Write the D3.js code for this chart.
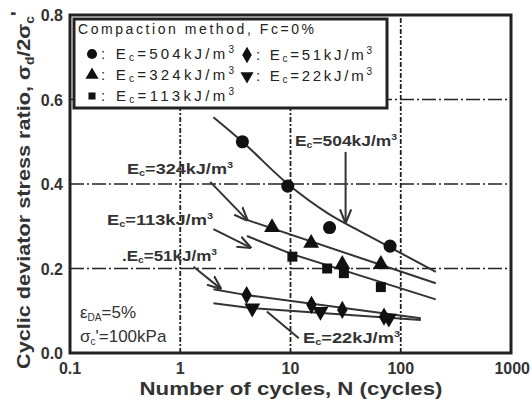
<!DOCTYPE html>
<html>
<head>
<meta charset="utf-8">
<script src="https://cdn.jsdelivr.net/npm/d3@7"></script>
<style>
  body { margin: 0; background: #fff; }
  text { font-family: "Liberation Sans", Arial, sans-serif; }
</style>
</head>
<body>
<div id="chart"></div>
<script>
// measured points (N cycles, stress ratio)
const ec504N = [3.66, 9.45, 22.6, 80]
const ec504R = [0.50, 0.395, 0.297, 0.253]
const ec324N = [6.8, 15.4, 29.5, 66]
const ec324R = [0.297, 0.26, 0.21, 0.21]
const ec113N = [10.4, 21.5, 30.5, 66]
const ec113R = [0.228, 0.20, 0.189, 0.156]
const ec51N = [4.0, 15.5, 29.5, 70.5]
const ec51R = [0.137, 0.114, 0.102, 0.086]
const ec22N = [4.5, 18.7, 78]
const ec22R = [0.106, 0.098, 0.082]

// fitted curves
const fit504 = [[2.0, 0.558], [3.66, 0.50], [9.45, 0.40], [22, 0.33], [45, 0.285], [80, 0.25], [208, 0.192]]
const fit324 = [[4.03, 0.315], [208, 0.165]]
const fit113 = [[4.03, 0.277], [10.3, 0.234], [208, 0.127]]
const fit51 = [[2.0, 0.151], [4.0, 0.137], [152, 0.082]]
const fit22 = [[2.0, 0.118], [4.5, 0.106], [152, 0.078]]

const xTicks = [0.1, 1, 10, 100, 1000]
const xTickLabels = ['0.1', '1', '10', '100', '1000']
const yTicks = [0, 0.2, 0.4, 0.6, 0.8]
const yTickLabels = ['0.0', '0.2', '0.4', '0.6', '0.8']
const energies = ['504', '324', '113', '51', '22']

const width = 532, height = 400
const margin = {left: 70, right: 21, top: 15, bottom: 47}

const svg = d3.select('#chart').append('svg')
    .attr('width', width)
    .attr('height', height)

const x = d3.scaleLog().domain([0.1, 1000]).range([margin.left, width - margin.right])
const y = d3.scaleLinear().domain([0, 0.8]).range([height - margin.bottom, margin.top])

// grid
svg.append('g').selectAll('line')
    .data([0.2, 0.4, 0.6]).enter().append('line')
    .attr('x1', x(0.1)).attr('x2', x(1000))
    .attr('y1', d => y(d)).attr('y2', d => y(d))
    .attr('stroke', '#222').attr('stroke-width', 1.6)
    .attr('stroke-dasharray', '14,3,2,3')
svg.append('g').selectAll('line')
    .data([1, 10, 100]).enter().append('line')
    .attr('x1', d => x(d)).attr('x2', d => x(d))
    .attr('y1', y(0)).attr('y2', y(0.8))
    .attr('stroke', '#222').attr('stroke-width', 1.8)
    .attr('stroke-dasharray', '5,2,2,2')

// tick labels
svg.append('g').selectAll('text')
    .data(yTicks).enter().append('text')
    .attr('x', margin.left - 7)
    .attr('y', d => y(d) + 6)
    .attr('text-anchor', 'end')
    .attr('font-size', 16).attr('font-weight', 'bold').attr('fill', '#333')
    .text((d, i) => yTickLabels[i])
svg.append('g').selectAll('text')
    .data(xTicks).enter().append('text')
    .attr('x', d => x(d))
    .attr('y', y(0) + 21)
    .attr('text-anchor', d => d == 1000 ? 'end' : 'middle')
    .attr('dx', d => d == 1000 ? 19 : 0)
    .attr('font-size', 16).attr('font-weight', 'bold').attr('fill', '#333')
    .text((d, i) => xTickLabels[i])

// axis titles
svg.append('text')
    .attr('x', 291).attr('y', 395)
    .attr('text-anchor', 'middle')
    .attr('font-size', 19).attr('font-weight', 'bold').attr('fill', '#333')
    .attr('textLength', 303).attr('lengthAdjust', 'spacingAndGlyphs')
    .text('Number of cycles, N (cycles)')

const yt = svg.append('text')
    .attr('transform', 'translate(30,190) rotate(-90)')
    .attr('text-anchor', 'middle')
    .attr('font-size', 19).attr('font-weight', 'bold').attr('fill', '#333')
    .attr('textLength', 358).attr('lengthAdjust', 'spacingAndGlyphs')
yt.append('tspan').text('Cyclic deviator stress ratio, σ')
yt.append('tspan').attr('font-size', 12).attr('dy', 4).text('d')
yt.append('tspan').attr('dy', -4).text('/2σ')
yt.append('tspan').attr('font-size', 12).attr('dy', 4).text('c')
yt.append('tspan').attr('dy', -10).text("'")

// fitted lines
const line = d3.line().x(d => x(d[0])).y(d => y(d[1]))
const curve = d3.line().x(d => x(d[0])).y(d => y(d[1])).curve(d3.curveMonotoneX)
const fits = [fit504, fit324, fit113, fit51, fit22]
svg.append('g').selectAll('path')
    .data(fits).enter().append('path')
    .attr('d', (d, i) => i == 0 ? curve(d) : line(d))
    .attr('fill', 'none').attr('stroke', '#333').attr('stroke-width', 2)

// leaders with arrows
svg.append('defs').append('marker')
    .attr('id', 'arr').attr('viewBox', '0 0 10 10')
    .attr('refX', 9).attr('refY', 5)
    .attr('markerWidth', 7).attr('markerHeight', 7)
    .attr('orient', 'auto')
  .append('path').attr('d', 'M0,1 L10,5 L0,9').attr('fill', 'none').attr('stroke', '#333').attr('stroke-width', 1.5)

const leaders = [
    [[31.6, 0.476], [31.6, 0.31], true],
    [[1.87, 0.405], [4.03, 0.315], true],
    [[2.0, 0.293], [4.3, 0.25], true],
    [[1.32, 0.204], [2.31, 0.153], true],
    [[6.1, 0.098], [11.9, 0.035], false]
]
svg.append('g').selectAll('line')
    .data(leaders).enter().append('line')
    .attr('x1', d => x(d[0][0])).attr('y1', d => y(d[0][1]))
    .attr('x2', d => x(d[1][0])).attr('y2', d => y(d[1][1]))
    .attr('stroke', '#333').attr('stroke-width', 2)
    .attr('marker-end', d => d[2] ? 'url(#arr)' : null)

// markers
const sym = {
    circle: d3.symbol().type(d3.symbolCircle).size(135),
    tri: d3.symbol().type(d3.symbolTriangle).size(110),
    square: d3.symbol().type(d3.symbolSquare).size(100),
    diamond: d3.symbol().type(d3.symbolDiamond).size(95)
}
function drawPoints(ns, rs, shape, flip) {
    svg.append('g').selectAll('path')
        .data(ns).enter().append('path')
        .attr('d', sym[shape])
        .attr('transform', (d, i) => 'translate(' + x(d) + ',' + y(rs[i]) + ')' + (flip ? ' rotate(180)' : ''))
        .attr('fill', '#111')
}
drawPoints(ec504N, ec504R, 'circle', false)
drawPoints(ec324N, ec324R, 'tri', false)
drawPoints(ec113N, ec113R, 'square', false)
drawPoints(ec51N, ec51R, 'diamond', false)
drawPoints(ec22N, ec22R, 'tri', true)

// curve labels
function ecLabel(g, px, py, val, len, pre) {
    const t = g.append('text')
        .attr('x', px).attr('y', py)
        .attr('font-size', 15).attr('font-weight', 'bold').attr('fill', '#333')
        .attr('textLength', len).attr('lengthAdjust', 'spacingAndGlyphs')
    t.append('tspan').text((pre || '') + 'E')
    t.append('tspan').attr('font-size', 9).attr('dy', 2).text('c')
    t.append('tspan').attr('dy', -2).text('=' + val + 'kJ/m')
    t.append('tspan').attr('font-size', 9).attr('dy', -6).text('3')
}
const lab = svg.append('g')
ecLabel(lab, 295, 146, energies[0], 102)
ecLabel(lab, 127, 174, energies[1], 106)
ecLabel(lab, 107, 225, energies[2], 106)
ecLabel(lab, 122, 261, energies[3], 95, '.')
ecLabel(lab, 303, 343, energies[4], 97)

// test conditions
const c1 = svg.append('text').attr('x', 80).attr('y', 318).attr('font-size', 17).attr('fill', '#333')
c1.append('tspan').text('ε')
c1.append('tspan').attr('font-size', 10).attr('dy', 3).text('DA')
c1.append('tspan').attr('dy', -3).text('=5%')
const c2 = svg.append('text').attr('x', 80).attr('y', 342).attr('font-size', 17).attr('fill', '#333')
c2.append('tspan').text('σ')
c2.append('tspan').attr('font-size', 10).attr('dy', 3).text('c')
c2.append('tspan').attr('dy', -3).text("'=100kPa")

// legend box
const leg = svg.append('g')
leg.append('rect')
    .attr('x', 74).attr('y', 19).attr('width', 313).attr('height', 89)
    .attr('fill', '#fff').attr('stroke', '#222').attr('stroke-width', 3)
leg.append('text')
    .attr('x', 78).attr('y', 34)
    .attr('font-size', 14).attr('fill', '#222')
    .attr('textLength', 236).attr('lengthAdjust', 'spacing')
    .text('Compaction method, Fc=0%')

const legItems = [
    {shape: 'circle', flip: false, lx: 92, ly: 54, e: energies[0]},
    {shape: 'tri', flip: false, lx: 92, ly: 75, e: energies[1]},
    {shape: 'square', flip: false, lx: 92, ly: 96, e: energies[2]},
    {shape: 'diamond', flip: false, lx: 247, ly: 55, e: energies[3]},
    {shape: 'tri', flip: true, lx: 247, ly: 76, e: energies[4]}
]
const legSym = {
    circle: d3.symbol().type(d3.symbolCircle).size(80),
    tri: d3.symbol().type(d3.symbolTriangle).size(75),
    square: d3.symbol().type(d3.symbolSquare).size(50),
    diamond: d3.symbol().type(d3.symbolDiamond).size(80)
}
legItems.forEach(d => {
    leg.append('path')
        .attr('d', legSym[d.shape])
        .attr('transform', 'translate(' + d.lx + ',' + d.ly + ')' + (d.flip ? ' rotate(180)' : ''))
        .attr('fill', '#111')
    const t = leg.append('text')
        .attr('x', d.lx + 9).attr('y', d.ly + 5)
        .attr('font-size', 15).attr('fill', '#222')
        .attr('textLength', d.e.length == 3 ? 133 : 116).attr('lengthAdjust', 'spacing')
    t.append('tspan').text(': E')
    t.append('tspan').attr('font-size', 10).attr('dy', 2).text('c')
    t.append('tspan').attr('dy', -2).text('=' + d.e + 'kJ/m')
    t.append('tspan').attr('font-size', 10).attr('dy', -6).text('3')
})

// frame
svg.append('rect')
    .attr('x', x(0.1)).attr('y', y(0.8))
    .attr('width', x(1000) - x(0.1)).attr('height', y(0) - y(0.8))
    .attr('fill', 'none').attr('stroke', '#222').attr('stroke-width', 3)
</script>
</body>
</html>
